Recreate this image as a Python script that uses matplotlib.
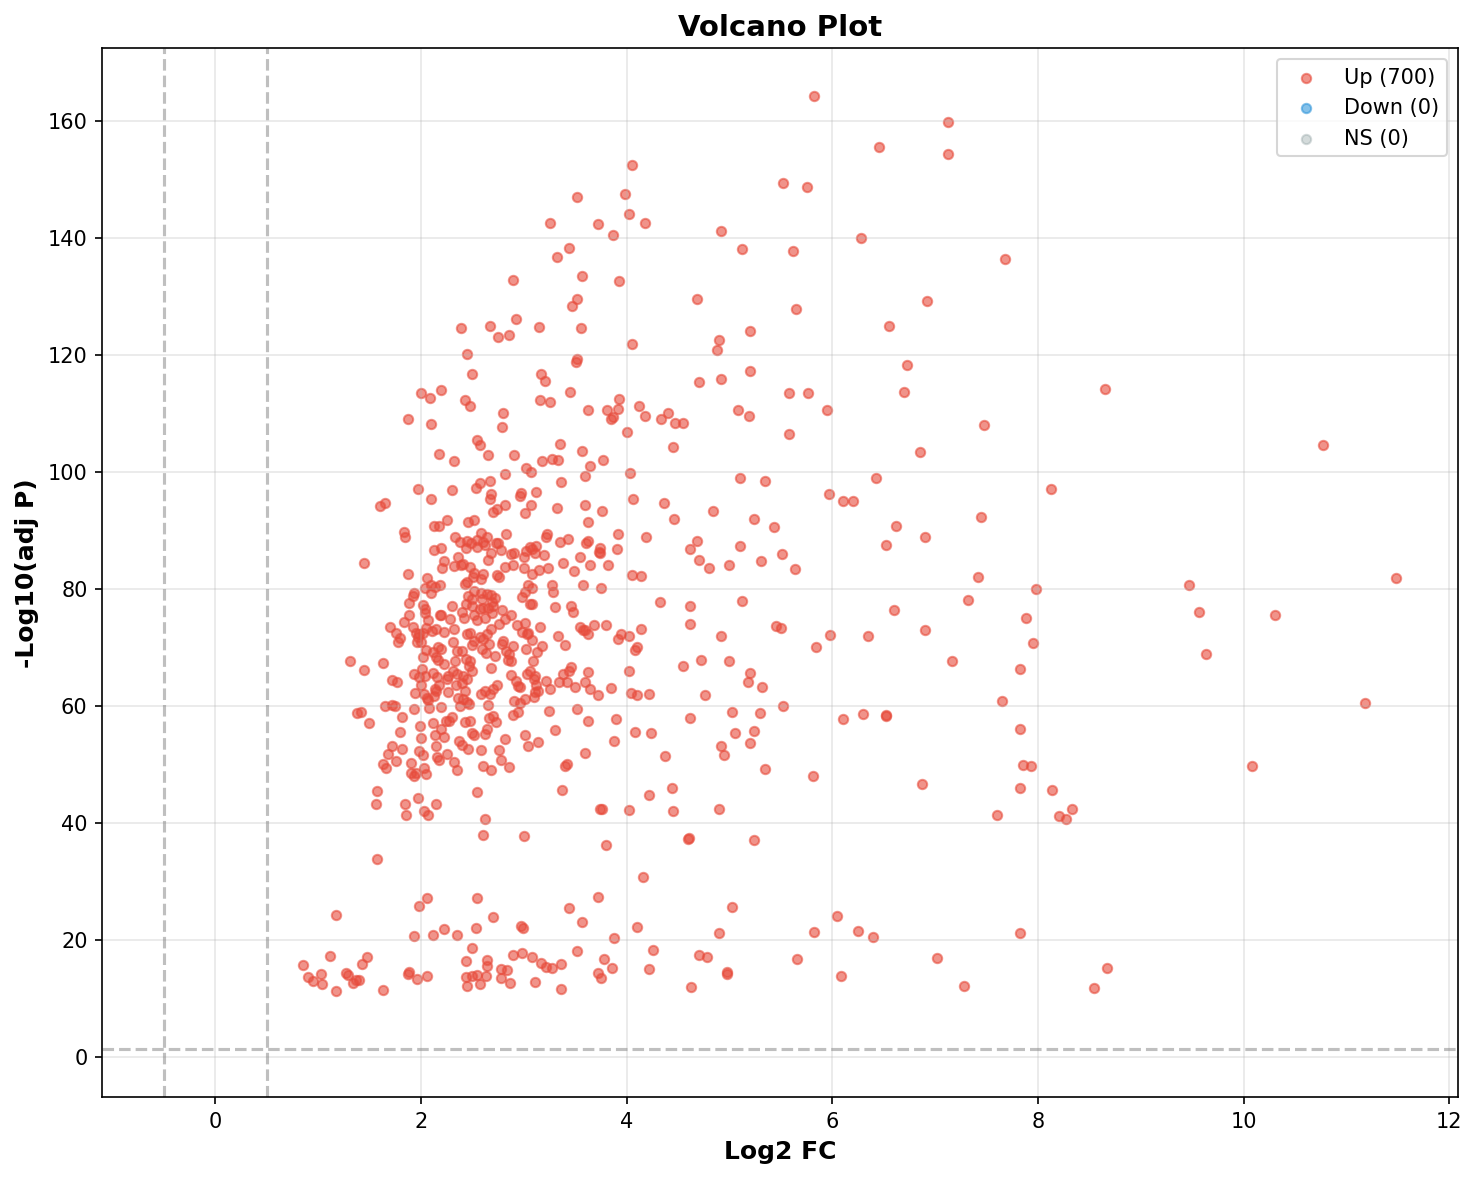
import numpy as np
import matplotlib.pyplot as plt

# thresholds used for the dashed guide lines
fc_cut = 0.5
p_cut = -np.log10(0.05)

# points, grouped by -log10(adj P) band: (log2 FC, -log10 adj P)
band_top = [
    (5.82, 164.2), (7.12, 159.7), (7.12, 154.3), (6.45, 155.5), (4.05, 152.4),
    (5.52, 149.3), (5.75, 148.6), (3.52, 146.9), (3.98, 147.5), (4.02, 144.1),
    (4.18, 142.5), (3.72, 142.3), (3.26, 142.6), (3.87, 140.5), (4.92, 141.2),
    (6.28, 139.9), (3.44, 138.2), (5.12, 138.1), (5.62, 137.8), (3.32, 136.7),
    (7.68, 136.3), (3.57, 133.5), (3.93, 132.6), (2.90, 132.7), (3.52, 129.6),
    (3.47, 128.4), (4.68, 129.6), (6.92, 129.2), (5.65, 127.9), (2.92, 126.2),
    (2.67, 125.0), (2.39, 124.5), (3.15, 124.7), (3.56, 124.5), (5.20, 124.0),
    (6.55, 125.0), (2.75, 123.1), (2.86, 123.3), (4.90, 122.6), (4.05, 121.9),
    (4.88, 120.8), (2.45, 120.1), (3.52, 119.2), (3.51, 118.8), (6.73, 118.2),
    (3.17, 116.8), (3.21, 115.6), (2.50, 116.8), (5.20, 117.3), (4.70, 115.4),
    (4.92, 115.8), (2.20, 114.0), (2.00, 113.5), (3.45, 113.7), (5.58, 113.5),
    (5.76, 113.5), (6.70, 113.7), (8.65, 114.2), (2.09, 112.6), (2.43, 112.2),
    (2.48, 111.2), (3.16, 112.3), (3.26, 112.0), (3.93, 112.5), (4.12, 111.3),
    (3.62, 110.5), (3.81, 110.5), (3.92, 110.7), (3.87, 109.3), (3.85, 109.0),
    (4.18, 109.6), (4.40, 110.1), (4.33, 109.1), (5.08, 110.5), (5.19, 109.6),
    (5.95, 110.6), (2.80, 110.0), (1.87, 109.1), (2.10, 108.2), (2.79, 107.6),
    (4.47, 108.3), (4.55, 108.3), (7.47, 108.0), (4.00, 106.8), (5.58, 106.5),
    (2.55, 105.4), (2.57, 104.5), (3.35, 104.7), (4.45, 104.2), (10.77, 104.6),
    (3.57, 103.5), (6.85, 103.4), (2.18, 103.0), (2.65, 102.8), (2.91, 102.9),
    (3.27, 102.2), (3.33, 102.1), (3.18, 101.8), (3.77, 102.1), (2.32, 101.9),
    (3.64, 101.0), (4.03, 99.8), (2.82, 99.7), (3.07, 99.9), (3.60, 99.2),
    (3.02, 100.6), (5.10, 99.0), (6.42, 99.0),
]

band_80_100 = [
    (1.60, 94.2), (1.65, 94.6), (1.97, 97.1), (2.10, 95.3), (2.30, 96.9),
    (2.54, 97.2), (2.57, 98.1), (2.67, 98.4), (2.68, 96.2), (2.70, 93.2),
    (2.74, 93.6), (2.67, 95.4), (2.96, 95.8), (2.97, 96.3), (3.01, 92.9),
    (3.12, 96.6), (3.07, 94.3), (3.36, 98.2), (3.32, 93.9), (3.60, 94.4),
    (3.76, 93.3), (3.62, 91.4), (4.06, 95.4), (4.36, 94.7), (4.46, 92.0),
    (4.84, 93.3), (5.35, 98.4), (5.24, 91.9), (5.43, 90.5), (5.97, 96.2),
    (6.10, 95.0), (6.20, 95.0), (6.52, 87.5), (6.62, 90.8), (6.90, 88.8),
    (7.45, 92.3), (8.13, 97.1), (2.82, 94.4),
    (1.85, 88.8), (1.84, 89.7), (2.13, 90.7), (2.18, 90.8), (2.20, 87.0),
    (2.25, 91.8), (2.33, 88.8), (2.38, 88.0), (2.36, 85.5), (2.44, 87.0),
    (2.46, 91.5), (2.49, 87.9), (2.52, 91.8), (2.55, 88.3), (2.58, 89.5),
    (2.60, 88.0), (2.62, 87.5), (2.64, 88.8), (2.68, 86.2), (2.73, 87.8),
    (2.78, 86.6), (2.88, 86.0), (2.91, 86.2), (2.83, 89.3), (3.00, 85.5),
    (3.02, 86.5), (3.08, 86.8), (3.12, 87.3), (3.22, 88.9), (3.23, 89.3),
    (3.20, 85.8), (3.35, 88.0), (3.43, 88.6), (3.55, 85.5), (3.61, 87.9),
    (3.62, 88.2), (3.73, 86.3), (3.74, 86.9), (3.91, 86.8), (3.92, 89.4),
    (3.74, 86.1), (4.19, 88.9), (4.62, 86.8), (4.68, 88.1), (4.70, 84.9),
    (4.80, 83.5), (5.00, 84.0), (5.10, 87.3), (5.31, 84.8), (5.51, 86.0),
    (5.64, 83.4), (2.45, 88.1), (2.55, 87.1), (2.75, 87.9), (2.13, 86.7),
    (2.22, 84.8), (2.39, 84.1), (2.65, 85.0), (3.06, 87.1), (3.11, 86.2),
    (1.45, 84.4), (1.87, 82.5), (2.06, 81.8), (2.10, 80.7), (2.19, 80.6),
    (2.21, 83.6), (2.32, 83.9), (2.41, 84.3), (2.43, 80.9), (2.48, 83.7),
    (2.52, 82.7), (2.60, 82.5), (2.58, 81.6), (2.74, 82.4), (2.76, 82.1),
    (2.82, 83.8), (2.90, 84.0), (3.00, 83.6), (3.08, 82.6), (3.15, 83.3),
    (3.24, 83.6), (3.27, 80.6), (3.38, 84.5), (3.49, 83.0), (3.58, 80.6),
    (3.64, 84.1), (3.82, 84.0), (4.05, 82.4), (4.14, 82.2), (4.32, 77.8),
    (7.42, 82.0), (7.98, 79.9), (9.47, 80.7), (11.48, 81.9),
    (2.51, 82.0), (2.45, 81.2), (2.04, 80.2), (2.14, 80.4), (3.08, 80.2),
]

band_60_80 = [
    (1.31, 67.6), (1.45, 66.2), (1.50, 57.0), (1.42, 59.0), (1.38, 58.8),
    (1.63, 67.3), (1.65, 60.0), (1.70, 73.4), (1.72, 64.4), (1.75, 59.9),
    (1.77, 64.0), (1.78, 71.0), (1.80, 71.6), (1.76, 72.5), (1.82, 58.1),
    (1.84, 74.4), (1.88, 77.6), (1.88, 75.5), (1.92, 73.4), (1.93, 79.3),
    (1.92, 78.8), (1.95, 72.4), (1.97, 71.7), (1.96, 70.9), (1.98, 72.2),
    (2.00, 71.0), (2.02, 72.4), (2.04, 76.5), (2.05, 73.3), (2.07, 74.6),
    (2.05, 69.5), (2.02, 68.3), (1.93, 65.5), (1.94, 62.2), (1.98, 64.9),
    (2.00, 63.5), (2.04, 65.1), (2.03, 62.0), (2.06, 61.4), (2.08, 59.7),
    (2.10, 79.3), (2.11, 72.8), (2.12, 69.2), (2.15, 68.3), (2.17, 67.8),
    (2.16, 65.0), (2.13, 61.7), (2.14, 62.8), (2.18, 63.6), (2.19, 75.6),
    (2.20, 75.5), (2.22, 72.6), (2.20, 69.7), (2.22, 67.1), (2.25, 64.6),
    (2.26, 62.4), (2.20, 59.8), (2.24, 57.4), (2.28, 74.8), (2.30, 77.1),
    (2.32, 73.2), (2.31, 70.9), (2.33, 67.6), (2.35, 65.5), (2.34, 63.6),
    (2.36, 61.4), (2.38, 59.9), (2.40, 76.1), (2.42, 75.1), (2.44, 77.4),
    (2.45, 72.3), (2.40, 69.4), (2.44, 68.0), (2.48, 72.5), (2.50, 70.4),
    (2.47, 66.8), (2.45, 64.6), (2.43, 62.5), (2.47, 60.3), (2.50, 78.2),
    (2.52, 75.6), (2.55, 74.7), (2.57, 76.5), (2.58, 79.3), (2.60, 76.7),
    (2.62, 75.1), (2.64, 72.2), (2.60, 71.4), (2.63, 69.1), (2.66, 70.6),
    (2.68, 73.2), (2.70, 77.0), (2.72, 78.4), (2.68, 78.9), (2.68, 66.5),
    (2.62, 62.5), (2.58, 62.1), (2.65, 60.1), (2.70, 62.8), (2.74, 63.5),
    (2.76, 74.0), (2.79, 76.4), (2.82, 74.8), (2.80, 71.1), (2.83, 69.4),
    (2.86, 68.8), (2.85, 67.8), (2.90, 70.2), (2.88, 65.3), (2.92, 64.2),
    (2.94, 63.4), (2.96, 60.5), (2.98, 78.6), (3.01, 79.5), (3.04, 80.7),
    (3.06, 77.4), (3.08, 77.4), (3.01, 74.2), (3.04, 72.5), (3.02, 69.7),
    (3.08, 71.2), (3.10, 64.6), (3.12, 63.6), (3.14, 62.5), (3.16, 73.4),
    (3.18, 70.3), (3.10, 61.6), (3.22, 64.2), (3.26, 62.9), (3.28, 79.4),
    (3.30, 76.9), (3.33, 72.0), (3.34, 64.1), (3.38, 65.5), (3.40, 70.4),
    (3.42, 64.0), (3.44, 66.0), (3.46, 77.0), (3.48, 76.1), (3.46, 66.6),
    (3.50, 63.3), (3.55, 73.5), (3.58, 72.9), (3.60, 73.0), (3.62, 72.2),
    (3.60, 64.0), (3.62, 65.8), (3.64, 62.8), (3.68, 73.9), (3.72, 61.9),
    (3.75, 80.1), (3.80, 73.9), (3.85, 63.1), (3.92, 71.4), (3.95, 72.2),
    (4.02, 72.0), (4.02, 66.0), (4.04, 62.2), (4.08, 69.6), (4.10, 70.0),
    (4.10, 61.8), (4.14, 73.2), (4.22, 62.1), (4.55, 66.8), (4.62, 77.0),
    (4.62, 74.0), (4.72, 67.9), (4.76, 61.8), (4.92, 71.9), (5.00, 67.6),
    (5.12, 78.0), (5.20, 65.7), (5.18, 64.0), (5.32, 63.2), (5.45, 73.6),
    (5.50, 73.3), (5.84, 70.0), (5.98, 72.1), (6.35, 71.9), (6.60, 76.4),
    (6.90, 72.9), (7.16, 67.6), (7.32, 78.1), (7.65, 60.9), (7.82, 66.3),
    (7.88, 75.1), (7.95, 70.7), (9.57, 76.1), (9.63, 68.8), (10.30, 75.6),
    (11.18, 60.5),
    (2.46, 78.7), (2.52, 79.6), (2.59, 78.2), (2.64, 79.1), (2.69, 77.7),
    (2.02, 77.3), (2.15, 73.1), (2.04, 75.9), (2.50, 77.0), (2.65, 76.8),
    (2.69, 75.9), (2.88, 75.6), (2.93, 73.9), (2.98, 72.6), (3.03, 72.2),
    (2.52, 71.1), (2.57, 71.7), (2.72, 68.5), (2.59, 69.7), (2.79, 70.5),
    (2.88, 67.6), (3.13, 69.2), (3.09, 67.6), (2.17, 70.0), (2.35, 69.3),
    (2.48, 67.6), (2.01, 66.3), (2.12, 65.7), (2.26, 65.1), (2.31, 65.9),
    (2.41, 65.1), (2.40, 63.9), (2.50, 65.9), (2.67, 62.0), (2.96, 63.2),
    (3.03, 65.4), (3.06, 65.9), (3.11, 65.1), (2.07, 61.0), (2.15, 62.5),
    (2.41, 61.1), (2.45, 60.6), (2.91, 60.8), (3.01, 61.1), (3.11, 62.3),
]

band_40_60 = [
    (1.57, 45.4), (1.56, 43.3), (1.63, 50.1), (1.66, 49.4), (1.68, 51.7),
    (1.72, 53.1), (1.72, 60.1), (1.76, 50.5), (1.80, 55.5), (1.82, 52.7),
    (1.85, 43.3), (1.86, 41.4), (1.90, 50.3), (1.93, 48.0), (1.93, 59.4),
    (1.90, 48.5), (1.95, 48.5), (1.97, 44.2), (1.98, 52.3), (1.99, 56.5),
    (2.00, 54.5), (2.02, 51.6), (2.03, 49.4), (2.05, 48.4), (2.03, 42.0),
    (2.07, 41.3), (2.12, 57.0), (2.14, 55.1), (2.15, 53.2), (2.16, 51.2),
    (2.18, 50.7), (2.15, 43.2), (2.20, 56.0), (2.22, 54.6), (2.25, 51.8),
    (2.27, 57.5), (2.30, 58.1), (2.32, 50.4), (2.35, 49.1), (2.37, 54.0),
    (2.40, 53.3), (2.43, 57.3), (2.46, 52.6), (2.48, 57.4), (2.50, 55.3),
    (2.52, 55.1), (2.55, 45.2), (2.58, 52.4), (2.60, 49.8), (2.62, 55.2),
    (2.64, 56.1), (2.66, 57.9), (2.68, 49.1), (2.70, 58.2), (2.73, 57.3),
    (2.76, 52.5), (2.78, 50.8), (2.82, 54.4), (2.86, 49.5), (2.90, 58.5),
    (2.94, 58.9), (3.01, 55.0), (3.04, 53.2), (3.14, 53.8), (3.25, 59.2),
    (3.30, 55.8), (3.37, 45.6), (3.40, 49.7), (3.42, 50.0), (3.52, 59.4),
    (3.62, 57.4), (3.60, 51.9), (3.74, 42.3), (3.76, 42.3), (3.88, 54.0),
    (3.90, 57.7), (4.02, 42.2), (4.08, 55.5), (4.22, 44.8), (4.24, 55.3),
    (4.37, 51.4), (4.44, 45.9), (4.45, 42.1), (4.62, 58.0), (4.90, 42.3),
    (4.92, 53.2), (4.95, 51.6), (5.02, 58.9), (5.05, 55.4), (5.20, 53.6),
    (5.24, 55.7), (5.30, 58.7), (5.35, 49.2), (5.52, 60.0), (5.81, 48.1),
    (6.10, 57.8), (6.30, 58.6), (6.52, 58.2), (6.52, 58.4), (6.87, 46.7),
    (7.60, 41.4), (7.82, 56.1), (7.82, 45.9), (7.85, 49.9), (7.93, 49.8),
    (8.14, 45.7), (8.20, 41.2), (8.27, 40.6), (8.33, 42.3), (10.08, 49.8),
]

band_low = [
    (1.57, 33.9), (2.60, 38.0), (2.62, 40.6), (3.00, 37.8), (3.80, 36.2),
    (4.60, 37.3), (4.61, 37.4), (5.24, 37.1), (4.16, 30.7), (2.55, 27.1),
    (2.06, 27.1), (3.72, 27.4), (1.98, 25.8), (3.44, 25.4), (5.02, 25.7),
    (1.17, 24.3), (2.70, 23.9), (3.57, 23.0), (6.05, 24.1), (2.22, 21.9),
    (2.12, 20.9), (2.35, 20.9), (2.54, 22.1), (2.97, 22.4), (2.99, 22.0),
    (4.10, 22.2), (1.93, 20.6), (3.88, 20.3), (4.90, 21.1), (5.82, 21.3),
    (6.25, 21.5), (6.40, 20.5), (7.82, 21.1), (2.50, 18.7), (3.52, 18.1),
    (4.26, 18.3), (1.12, 17.2), (1.48, 17.0), (2.90, 17.5), (2.98, 17.7),
    (3.08, 17.0), (3.78, 16.7), (4.70, 17.4), (4.78, 17.0), (5.66, 16.7),
    (7.02, 16.9), (0.85, 15.7), (1.43, 15.9), (2.44, 16.4), (2.64, 16.6),
    (2.64, 15.6), (3.17, 16.0), (3.22, 15.4), (3.27, 15.2), (3.36, 15.9),
    (3.86, 15.2), (4.22, 15.0), (8.67, 15.2), (2.55, 14.0), (2.78, 15.0),
    (2.84, 14.8), (0.90, 13.6), (1.03, 14.2), (1.27, 14.3), (1.29, 14.0),
    (1.37, 13.2), (1.40, 13.1), (1.88, 14.6), (1.87, 14.1), (2.06, 13.9),
    (2.44, 13.7), (2.50, 13.8), (2.63, 13.8), (2.78, 13.5), (3.72, 14.3),
    (3.75, 13.5), (4.98, 14.5), (4.98, 14.2), (6.08, 13.9), (0.95, 12.9),
    (1.34, 12.7), (1.04, 12.4), (1.96, 13.3), (2.45, 12.2), (2.57, 12.5),
    (2.87, 12.6), (3.11, 12.8), (4.63, 12.0), (7.28, 12.1), (8.54, 11.8),
    (1.17, 11.3), (1.63, 11.4), (3.36, 11.6),
]

up = np.array(band_top + band_80_100 + band_60_80 + band_40_60 + band_low)
up_fc, up_p = up[:, 0], up[:, 1]
# no down-regulated or non-significant genes in this set
down_fc, down_p = [], []
ns_fc, ns_p = [], []

fig, ax = plt.subplots(figsize=(9.87, 7.87), dpi=150)
fig.subplots_adjust(left=0.069, right=0.9845, top=0.9585, bottom=0.0703)

ax.scatter(up_fc, up_p, color='#e74c3c', alpha=0.6, s=20, label='Up (700)')
ax.scatter(down_fc, down_p, color='#3498db', alpha=0.6, s=20, label='Down (0)')
ax.scatter(ns_fc, ns_p, color='#95a5a6', alpha=0.4, s=20, label='NS (0)')

# significance guides
ax.axhline(p_cut, color='gray', linestyle='--', alpha=0.5)
ax.axvline(-fc_cut, color='gray', linestyle='--', alpha=0.5)
ax.axvline(fc_cut, color='gray', linestyle='--', alpha=0.5)

ax.set_xlabel('Log2 FC', fontsize=12, fontweight='bold')
ax.set_ylabel('-Log10(adj P)', fontsize=12, fontweight='bold')
ax.set_title('Volcano Plot', fontsize=14, fontweight='bold')
ax.legend(loc='upper right')
ax.grid(True, alpha=0.3)

plt.savefig('out.png', dpi=150)
